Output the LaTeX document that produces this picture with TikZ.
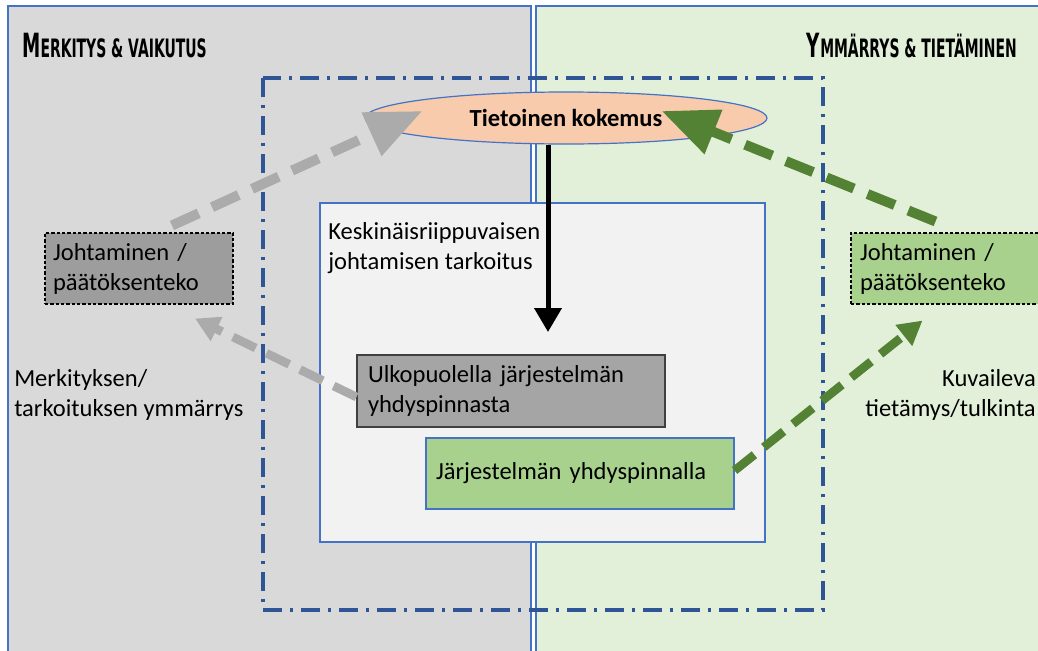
\documentclass[tikz,border=0pt]{standalone}
\usepackage{fontspec}
\setmainfont{Carlito}
\newfontfamily\sketchfont{DejaVu Sans}[FakeStretch=0.55]
\usepackage{xcolor}
\usetikzlibrary{arrows.meta,shapes.geometric}
\definecolor{panelblue}{HTML}{4472C4}
\definecolor{panelgray}{HTML}{D9D9D9}
\definecolor{panelgreen}{HTML}{E2F0D9}
\definecolor{innergray}{HTML}{F2F2F2}
\definecolor{peach}{HTML}{F8CBAD}
\definecolor{boxgray}{HTML}{A5A5A5}
\definecolor{boxgreen}{HTML}{A9D18E}
\definecolor{linkgray}{HTML}{ABABAB}
\definecolor{linkgreen}{HTML}{548235}
\definecolor{framedark}{HTML}{2F5597}
\newcommand{\bodysize}{\fontsize{18.4}{22.5}\selectfont}
\newcommand{\sketchtitle}[2]{{\sketchfont\bfseries{\fontsize{25}{25}\selectfont #1}{\fontsize{19}{19}\selectfont #2}}}
\tikzset{
  panel/.style={draw=panelblue, line width=0.8pt, rectangle, inner sep=0pt},
  solidbox/.style={rectangle, line width=0.9pt, inner ysep=0pt, minimum height=54pt,
    align=left, font=\bodysize},
  dashbox/.style={rectangle, draw=black, line width=0.8pt, dash pattern=on 2.5pt off 1.5pt,
    inner ysep=0pt, minimum height=53.25pt, align=left, font=\bodysize},
  biglink/.style={line width=7.5pt, dash pattern=on 22pt off 11pt,
    -{Triangle[width=34pt,length=42pt]}},
  smalllink/.style={line width=6.5pt, dash pattern=on 19pt off 9pt,
    -{Triangle[width=19pt,length=18pt]}},
  framedash/.style={draw=framedark, line width=3pt,
    dash pattern=on 14pt off 6pt on 2.5pt off 6pt}
}
\begin{document}
\begin{tikzpicture}[x=0.75pt, y=-0.75pt]
  \useasboundingbox (0,0) rectangle (1038,650);
  \clip (0,0) rectangle (1038,650);
  % the two halves
  \node[panel, fill=panelgray, minimum width=392.25pt, minimum height=490.5pt] (leftpanel) at (269.5,333) {};
  \node[panel, fill=panelgreen, minimum width=382.5pt, minimum height=490.5pt] (rightpanel) at (791,333) {};
  \node[anchor=west, inner sep=0pt] (lefttitle) at (22,46) {\sketchtitle{M}{ERKITYS \& VAIKUTUS}};
  \node[anchor=east, inner sep=0pt] (righttitle) at (1017,46) {\sketchtitle{Y}{MMÄRRYS \& TIETÄMINEN}};
  % middle
  \node[panel, fill=innergray, minimum width=333.75pt, minimum height=254.25pt] (purposebox) at (542.5,372.5) {};
  \node[anchor=north west, align=left, inner sep=0pt, font=\bodysize] (purpose) at (328,222)
    {Keskinäisriippuvaisen\\johtamisen tarkoitus};
  \draw[framedash] (263,78) rectangle (823,610);
  \node[ellipse, draw=panelblue, line width=0.9pt, fill=peach, minimum width=301.5pt, minimum height=39pt,
    font=\bodysize\bfseries] (tietoinen) at (566,118) {Tietoinen kokemus};
  \node[solidbox, draw=black!75, fill=boxgray, inner xsep=8.25pt, text width=214.5pt] (ulko) at (511,391)
    {Ulkopuolella järjestelmän\\yhdyspinnasta};
  \node[solidbox, draw=panelblue, fill=boxgreen, inner xsep=7.5pt, text width=216pt, minimum height=53.25pt] (jarj) at (580,473.5)
    {Järjestelmän yhdyspinnalla};
  % sides
  \node[dashbox, fill=boxgray!95!black, inner xsep=6pt, text width=129pt] (leftlead) at (139,268.5)
    {Johtaminen /\\päätöksenteko};
  \node[dashbox, fill=boxgreen, inner xsep=6.75pt, text width=128.25pt] (rightlead) at (945.5,268.5)
    {Johtaminen /\\päätöksenteko};
  \node[anchor=west, align=left, inner sep=0pt, font=\bodysize] (meaning) at (14,395)
    {Merkityksen/\\tarkoituksen ymmärrys};
  \node[anchor=east, align=right, inner sep=0pt, font=\bodysize] (describe) at (1036,395)
    {Kuvaileva\\tietämys/tulkinta};
  % arrows
  \coordinate (purposetip) at (548,332);
  \draw[line width=3.75pt, -{Triangle[width=20pt,length=18pt]}] (tietoinen.south -| purposetip) -- (purposetip);
  \draw[biglink, draw=linkgray] ([shift={(33,-7)}]leftlead.north) -- ([shift={(58,-7)}]tietoinen.west);
  \draw[biglink, draw=linkgreen] ([shift={(-10,-11)}]rightlead.north) -- ([shift={(-106,-7)}]tietoinen.east);
  \draw[smalllink, draw=linkgray] ([shift={(0,6)}]ulko.west) -- ([shift={(56,14)}]leftlead.south);
  \draw[smalllink, draw=linkgreen] ([shift={(0,-3)}]jarj.east) -- ([shift={(-23,16)}]rightlead.south);
\end{tikzpicture}
\end{document}
